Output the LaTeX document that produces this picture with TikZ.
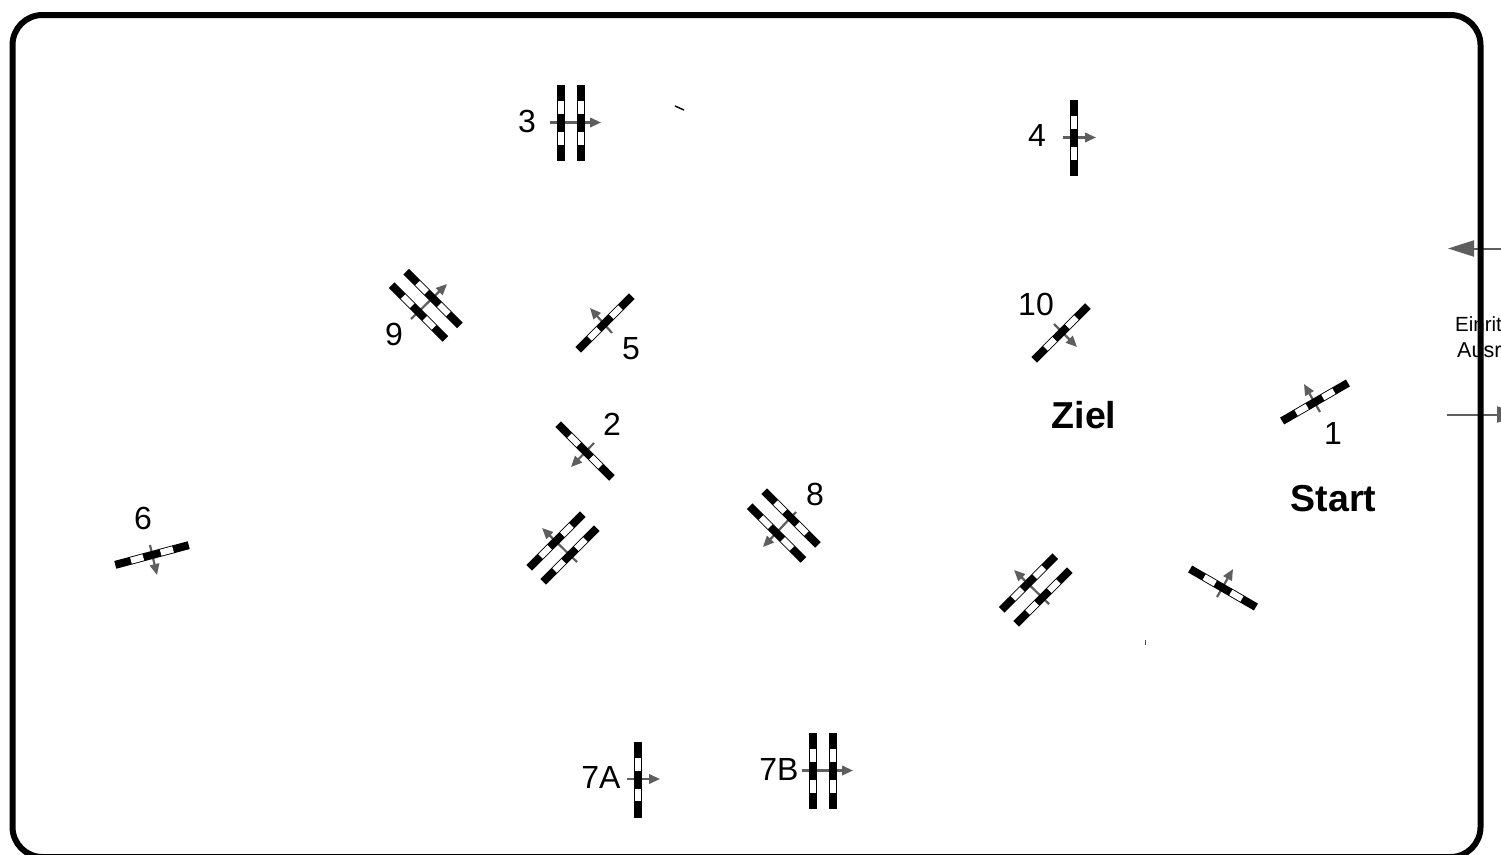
\documentclass[tikz,border=0pt]{standalone}
\usepackage{fontspec}
\setmainfont{Liberation Sans}
\usetikzlibrary{arrows.meta}
\definecolor{arrowgray}{HTML}{5E5E5E}
\tikzset{
  x=1pt,y=-1pt,
  gatebar/.pic={
    \fill[black] (-38,-4) rectangle (38,4);
    \fill[white] (-21.8,-3.1) rectangle (-9,3.1);
    \fill[white] (9,-3.1) rectangle (21.8,3.1);
  },
  flow/.style={draw=arrowgray,line width=2.2pt,-{Triangle[length=11pt,width=9.5pt,fill=arrowgray]}},
  bigflow/.style={draw=arrowgray,line width=2pt,-{Triangle[length=26pt,width=16pt,fill=arrowgray]}},
  num/.style={font=\fontsize{32}{32}\selectfont,inner sep=0pt},
  title/.style={font=\fontsize{37.5}{37.5}\selectfont\bfseries,inner sep=0pt},
  small/.style={font=\fontsize{20.5}{20.5}\selectfont,inner sep=0pt,anchor=base west},
  frameline/.style={draw=black,line width=6pt,rounded corners=30pt}
}
\begin{document}
\begin{tikzpicture}
\useasboundingbox (0,0) rectangle (1501,854);
\begin{scope}
\clip (0,0) rectangle (1501,854);
% entry / exit
\node[small] (einritt) at (1455,331) {Einritt};
\node[small,font=\fontsize{21.5}{21.5}\selectfont] (ausritt) at (1457,357) {Ausritt};
\draw[bigflow] (1510,248.5) -- (1448,248.5);
\draw[bigflow] (1447,414.5) -- (1523,414.5);
\draw[frameline] (12.5,15) rectangle (1480.5,857);
\end{scope}
% direction arrows
\draw[flow] (550,122.5) -- (601,122.5);
\draw[flow] (1063,137.5) -- (1096,137.5);
\draw[flow] (411,319) -- (447,284);
\draw[flow] (612,333) -- (590,308);
\draw[flow] (1054,324) -- (1077,347);
\draw[flow] (1320,412) -- (1304,384);
\draw[flow] (594,443) -- (571,467);
\draw[flow] (150,545) -- (157,575);
\draw[flow] (577,562) -- (542,528);
\draw[flow] (796,512) -- (763,547);
\draw[flow] (1049,604) -- (1014,570);
\draw[flow] (1217,597) -- (1233,569);
\draw[flow] (627,779) -- (660,779);
\draw[flow] (802,770.5) -- (853,770.5);
% gates
\pic[rotate=90] at (561,123) {gatebar};
\pic[rotate=90] at (581,123) {gatebar};
\pic[rotate=90] at (1074,138) {gatebar};
\pic[rotate=-45] at (418.5,312) {gatebar};
\pic[rotate=-45] at (433,298.5) {gatebar};
\pic[rotate=45] at (605,323) {gatebar};
\pic[rotate=45] at (1061,333) {gatebar};
\pic[rotate=30] at (1315,402) {gatebar};
\pic[rotate=-45] at (585,451) {gatebar};
\pic[rotate=15] at (152,555) {gatebar};
\pic[rotate=45] at (556,541) {gatebar};
\pic[rotate=45] at (570,555) {gatebar};
\pic[rotate=-45] at (776.5,533) {gatebar};
\pic[rotate=-45] at (791,518) {gatebar};
\pic[rotate=45] at (1028.5,583) {gatebar};
\pic[rotate=45] at (1043,597) {gatebar};
\pic[rotate=-30] at (1223,588) {gatebar};
\pic[rotate=90] at (638,779.5) {gatebar};
\pic[rotate=90] at (813,771) {gatebar};
\pic[rotate=90] at (833,771) {gatebar};
% ticks
\draw[line width=1.4pt] (675,106) -- (684,110);
\draw[line width=1pt,black!70] (1145,640) -- (1145,645);
% labels
\node[num] (n3) at (527,121.5) {3};
\node[num] (n4) at (1037,135.5) {4};
\node[num] (n9) at (394,334.5) {9};
\node[num] (n5) at (631,348.5) {5};
\node[num] (n10) at (1036,304.5) {10};
\node[num] (n1) at (1333,433.5) {1};
\node[num] (n2) at (612,424.5) {2};
\node[num] (n6) at (143,518.5) {6};
\node[num] (n8) at (815,494.5) {8};
\node[num] (n7a) at (601,777.5) {7A};
\node[num] (n7b) at (779,769.5) {7B};
\node[title] (ziel) at (1084,415) {Ziel};
\node[title] (start) at (1333.5,499) {Start};
\end{tikzpicture}
\end{document}
